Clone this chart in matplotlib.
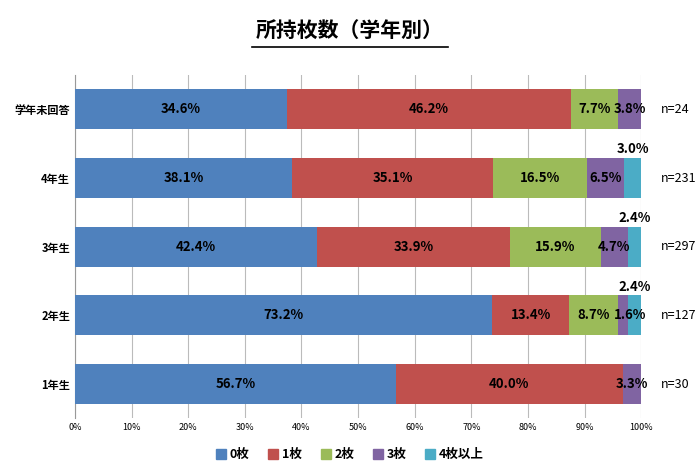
import matplotlib.pyplot as plt
import numpy as np

plt.rcParams['font.family'] = 'Noto Sans CJK JP'

grades = ['学年未回答', '4年生', '3年生', '2年生', '1年生']
counts = ['n=24', 'n=231', 'n=297', 'n=127', 'n=30']
series = ['0枚', '1枚', '2枚', '3枚', '4枚以上']
values = [
    [34.6, 46.2, 7.7, 3.8, 0.0],
    [38.1, 35.1, 16.5, 6.5, 3.0],
    [42.4, 33.9, 15.9, 4.7, 2.4],
    [73.2, 13.4, 8.7, 1.6, 2.4],
    [56.7, 40.0, 0.0, 3.3, 0.0],
]
colors = ['#4F81BD', '#C0504D', '#9BBB59', '#8064A2', '#4BACC6']

fig = plt.figure(figsize=(7, 4.69), dpi=100)
ax = fig.add_axes([0.107, 0.108, 0.809, 0.732])

y = np.arange(len(grades))
for i, row in enumerate(values):
    row = np.array(row)
    norm = row / row.sum() * 100
    left = 0
    for j, (v, w) in enumerate(zip(row, norm)):
        if v == 0:
            continue
        ax.barh(i, w, left=left, height=0.58, color=colors[j], zorder=3)
        cx = left + w / 2
        cy = i
        if v < 3.5 and j == 4:
            cx, cy = left + w / 2, i - 0.42
        elif v < 2.0:
            cx = left + w / 2 + 1.2
        ax.text(cx, cy, f'{v:.1f}%', ha='center', va='center',
                fontsize=9.5, fontweight='bold', color='black', zorder=4)
        left += w
    ax.text(103.5, i, counts[i], ha='left', va='center', fontsize=9)

ax.set_yticks(y)
ax.set_yticklabels(grades, fontsize=8, fontweight='bold')
ax.set_ylim(len(grades) - 0.5, -0.5)
ax.set_xlim(0, 100)
ax.set_xticks(np.arange(0, 101, 10))
ax.set_xticklabels([f'{t}%' for t in range(0, 101, 10)], fontsize=6.5)
ax.xaxis.grid(True, color='#BBBBBB', linewidth=0.8, zorder=0)
ax.tick_params(length=0)
for s in ax.spines.values():
    s.set_visible(False)
ax.spines['left'].set_visible(True)
ax.spines['left'].set_color('#999999')

fig.text(0.5, 0.935, '所持枚数（学年別）', ha='center', va='center',
         fontsize=15, fontweight='bold')
fig.add_artist(plt.Line2D([0.36, 0.64], [0.9, 0.9], color='black', linewidth=1.2))

handles = [plt.Rectangle((0, 0), 1, 1, color=c) for c in colors]
fig.legend(handles, series, loc='center', bbox_to_anchor=(0.5, 0.03), ncol=5,
           frameon=False, fontsize=9, handlelength=0.8, handleheight=0.8,
           columnspacing=1.5, handletextpad=0.3, prop={'weight': 'bold', 'size': 9})

fig.savefig('out.png', dpi=100)
